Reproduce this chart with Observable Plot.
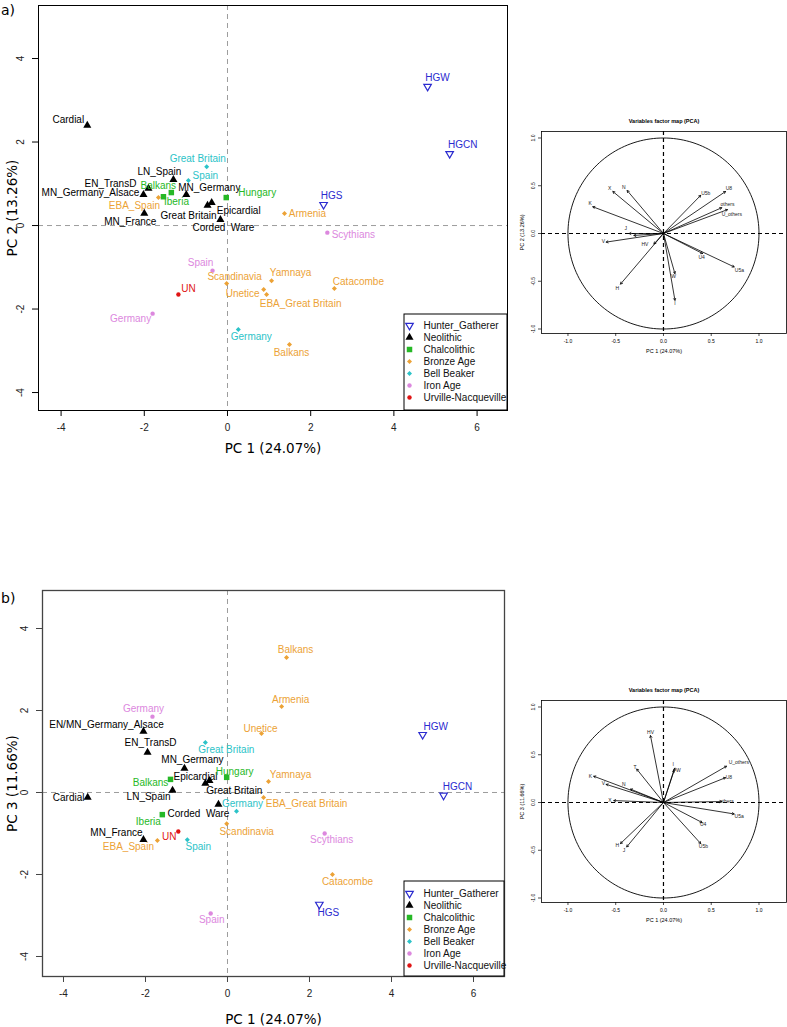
<!DOCTYPE html>
<html><head><meta charset="utf-8">
<script src="https://cdn.jsdelivr.net/npm/d3@7"></script>
<script src="https://cdn.jsdelivr.net/npm/@observablehq/plot@0.6"></script>
<style>
body{margin:0;background:#fff;}
#fig{position:relative;width:787px;height:1027px;overflow:hidden;background:#fff;font-family:"Liberation Sans",Arial,sans-serif;}
#fig svg{position:absolute;overflow:visible;}
.plab{position:absolute;font-family:"DejaVu Sans",sans-serif;font-size:14px;line-height:14px;}
</style></head><body><div id="fig"></div><script>
// ---------------- DATA ----------------
const groups = ["Hunter_Gatherer","Neolithic","Chalcolithic","Bronze Age","Bell Beaker","Iron Age","Urville-Nacqueville"];

// Panel a: PC1 vs PC2
const namesA = ["HGW","HGCN","HGS",
  "Cardial","LN_Spain","EN_TransD","MN_Germany_Alsace","MN_Germany","MN_France","Great Britain","Epicardial","Corded\u00a0\u00a0Ware",
  "Balkans","Iberia","Hungary",
  "EBA_Spain","Armenia","Scandinavia","Yamnaya","Unetice","EBA_Great Britain","Catacombe","Balkans",
  "Great Britain","Spain","Germany",
  "Scythians","Spain","Germany",
  "UN"];
const groupA = ["Hunter_Gatherer","Hunter_Gatherer","Hunter_Gatherer",
  "Neolithic","Neolithic","Neolithic","Neolithic","Neolithic","Neolithic","Neolithic","Neolithic","Neolithic",
  "Chalcolithic","Chalcolithic","Chalcolithic",
  "Bronze Age","Bronze Age","Bronze Age","Bronze Age","Bronze Age","Bronze Age","Bronze Age","Bronze Age",
  "Bell Beaker","Bell Beaker","Bell Beaker",
  "Iron Age","Iron Age","Iron Age",
  "Urville-Nacqueville"];
const pc1A = [4.81,5.34,2.31, -3.37,-1.30,-1.90,-2.02,-0.99,-2.00,-0.48,-0.38,-0.17, -1.35,-1.54,-0.03, -1.66,1.37,-0.02,1.06,0.87,0.94,2.57,1.49, -0.50,-0.94,0.26, 2.40,-0.36,-1.80, -1.18];
const pc2A = [3.33,1.72,0.50, 2.40,1.10,0.89,0.74,0.74,0.29,0.48,0.55,0.14, 0.79,0.69,0.67, 0.67,0.29,-1.39,-1.32,-1.53,-1.65,-1.51,-2.85, 1.41,1.08,-2.49, -0.17,-1.08,-2.11, -1.65];

// Panel b: PC1 vs PC3
const namesB = ["HGW","HGCN","HGS",
  "EN/MN_Germany_Alsace","EN_TransD","MN_Germany","Epicardial","Great Britain","LN_Spain","Cardial","Corded\u00a0\u00a0Ware","MN_France",
  "Hungary","Balkans","Iberia",
  "Balkans","Armenia","Unetice","Yamnaya","EBA_Great Britain","Scandinavia","EBA_Spain","Catacombe",
  "Great Britain","Germany","Spain",
  "Germany","Scythians","Spain",
  "UN"];
const groupB = groupA.slice();
const pc1B = [4.76,5.27,2.24, -2.05,-1.95,-1.05,-0.44,-0.54,-1.34,-3.41,-0.22,-2.05, -0.02,-1.39,-1.59, 1.44,1.32,0.83,1.00,0.88,-0.02,-1.71,2.56, -0.54,0.22,-0.98, -1.83,2.37,-0.41, -1.20];
const pc3B = [1.41,-0.07,-2.73, 1.49,0.98,0.59,0.29,0.22,0.05,-0.12,-0.29,-1.15, 0.37,0.32,-0.54, 3.29,2.10,1.44,0.27,-0.12,-0.76,-1.17,-2.00, 1.22,-0.46,-1.15, 1.85,-1.00,-2.95, -0.95];

const xTicks = [-4,-2,0,2,4,6];
const yTicks = [-4,-2,0,2,4];

// Variables factor maps
const varNamesA = ["X","N","K","U5b","U8","others","U_others","J","T","V","HV","H","U4","U5a","W","I"];
const dim1A = [-0.53,-0.38,-0.74,0.39,0.65,0.61,0.67,-0.36,-0.31,-0.60,-0.10,-0.45,0.41,0.74,0.12,0.12];
const dim2A = [0.44,0.45,0.28,0.40,0.44,0.27,0.25,0.00,-0.02,-0.09,-0.11,-0.53,-0.21,-0.35,-0.42,-0.70];
const varNamesB = ["HV","T","I","W","U_others","U8","K","V","N","X","others","U5a","U4","U5b","H","J"];
const dim1B = [-0.136,-0.28,0.12,0.11,0.66,0.65,-0.73,-0.60,-0.345,-0.52,0.61,0.74,0.405,0.39,-0.45,-0.385];
const dim3B = [0.70,0.35,0.36,0.34,0.38,0.26,0.275,0.19,0.14,0.02,0.01,-0.12,-0.21,-0.43,-0.43,-0.465];
const varTicks = [-1,-0.5,0,0.5,1];

// ---------------- LAYOUT / STYLE ----------------
const colors = {"Hunter_Gatherer":"#2b2bcf","Neolithic":"#000000","Chalcolithic":"#26b826","Bronze Age":"#eca236","Bell Beaker":"#2cc3c8","Iron Age":"#dc88de","Urville-Nacqueville":"#e01414"};
const triDown = {draw(ctx, size){const y = -Math.sqrt(size/(Math.sqrt(3)*3)); ctx.moveTo(0,-2*y); ctx.lineTo(-Math.sqrt(3)*y, y); ctx.lineTo(Math.sqrt(3)*y, y); ctx.closePath();}};
const diamond = {draw(ctx, size){const r = Math.sqrt(size/2); ctx.moveTo(0,-r); ctx.lineTo(r,0); ctx.lineTo(0,r); ctx.lineTo(-r,0); ctx.closePath();}};
const symbolStyles = {
  "Hunter_Gatherer": {symbol: triDown, fill: "none", stroke: colors["Hunter_Gatherer"], strokeWidth: 1.2, r: 2.8},
  "Neolithic": {symbol: "triangle", fill: colors["Neolithic"], r: 3},
  "Chalcolithic": {symbol: "square", fill: colors["Chalcolithic"], r: 3.1},
  "Bronze Age": {symbol: diamond, fill: colors["Bronze Age"], r: 2},
  "Bell Beaker": {symbol: diamond, fill: colors["Bell Beaker"], r: 2},
  "Iron Age": {symbol: "circle", fill: colors["Iron Age"], r: 2.2},
  "Urville-Nacqueville": {symbol: "circle", fill: colors["Urville-Nacqueville"], r: 2.2}
};
const labelOffsetA = [[10,-9],[13,-9],[8,-9],
  [-19,-6],[-14,-8],[-38,-5],[-53,-2],[23,-7],[-14,8],[-19,10],[27,8],[3,8],
  [-13,-7],[13,5],[31,-5],
  [-24,8],[23,0],[8,-7],[19,-8],[-21,4],[34,9],[24,-7],[2,8],
  [-9,-8],[17,-5],[13,7],
  [26,2],[-12,-8],[-22,5],
  [10,-6]];
const labelOffsetB = [[13,-8],[14,-9],[9,8],
  [-37,-7],[3,-10],[8,-9],[-14,-4],[29,7],[-24,6],[-19,0],[-20,9],[-27,-7],
  [8,-6],[-20,3],[-14,7],
  [9,-8],[9,-7],[-1,-5],[22,-7],[43,6],[20,8],[-29,6],[15,7],
  [21,7],[6,-8],[11,7],
  [-9,-8],[7,6],[1,6],
  [-9,5]];
const varOffsetA = [[-3.3,-3],[-3.3,-2.7],[-2.7,-3.3],[5,-2.3],[3.3,-3],[5.7,-3.3],[4.3,5],[-3.3,-5],[1.7,0],[-2.7,-0.7],[-9,0.7],[-3.3,4.3],[-1,4],[5.3,3.3],[-1.3,2.7],[0,3.3]];
const varOffsetB = [[0,-3.3],[-1.7,-1.7],[-1.7,-3.3],[4.3,0],[12.3,-3.7],[3.3,0],[-3.3,0],[-2.7,-0.7],[-6.7,-5],[-4,0],[5,0],[5,2.7],[1,2.3],[2.7,2.7],[-3.3,2.3],[-2.7,3.3]];

const fig = document.getElementById("fig");
function place(el, left, top){ el.style.left = left + "px"; el.style.top = top + "px"; fig.appendChild(el); }

function scatter(o){
  const data = o.names.map((n,i)=>({name:n, group:o.grp[i], x:o.xs[i], y:o.ys[i], dx:o.offsets[i][0], dy:o.offsets[i][1]}));
  const dash = {stroke:"#9c9c9c", strokeDasharray:"5,4", strokeWidth:1};
  return Plot.plot({
    width:o.width, height:o.height,
    marginLeft:o.ml, marginRight:o.mr, marginTop:o.mt, marginBottom:o.mb,
    style:{fontFamily:"Liberation Sans, Arial, sans-serif", background:"transparent", color:"#000"},
    x:{domain:o.xDomain}, y:{domain:o.yDomain},
    marks:[
      Plot.ruleX([0], dash),
      Plot.ruleY([0], dash),
      ...groups.map(g => Plot.dot(data.filter(d=>d.group===g), {x:"x", y:"y", ...symbolStyles[g]})),
      ...data.map(d => Plot.text([d], {x:"x", y:"y", text:"name", dx:d.dx, dy:d.dy, fill:colors[d.group], fontSize:10})),
      Plot.frame({stroke:o.frameStroke, strokeWidth:o.frameWidth}),
      Plot.axisX({ticks:xTicks, tickSize:6, tickPadding:7, tickFormat:d=>String(d), label:null, fontSize:10, stroke:o.frameStroke, color:"#222"}),
      Plot.axisY({ticks:yTicks, tickSize:6, tickFormat:()=>"", label:null, stroke:o.frameStroke}),
      Plot.text(yTicks, {y:d=>d, text:d=>String(d), frameAnchor:"left", dx:-18, rotate:-90, textAnchor:"middle", lineAnchor:"middle", fontSize:10, fill:"#222"}),
      Plot.text([o.xTitle], {frameAnchor:"bottom", text:d=>d, dy:o.xTitleDy, lineAnchor:"middle", textAnchor:"middle", fontSize:13.5, fontFamily:"DejaVu Sans"}),
      Plot.text([o.yTitle], {frameAnchor:"left", text:d=>d, dx:o.yTitleDx, rotate:-90, lineAnchor:"middle", textAnchor:"middle", fontSize:13.5, fontFamily:"DejaVu Sans"})
    ]
  });
}

function legend(width, height, mt, mb){
  return Plot.plot({
    width, height, marginLeft:0, marginRight:0, marginTop:mt, marginBottom:mb,
    style:{fontFamily:"Liberation Sans, Arial, sans-serif", background:"transparent"},
    x:{domain:[0,1], axis:null},
    y:{type:"point", domain:groups, padding:0, axis:null},
    marks:[
      Plot.frame({fill:"white", stroke:"black", insetTop:-mt+0.5, insetBottom:-mb+0.5, insetLeft:0.5, insetRight:0.5}),
      ...groups.map(g => Plot.dot([g], {x:()=>0, y:d=>d, dx:6, ...symbolStyles[g]})),
      Plot.text(groups, {x:()=>0, y:d=>d, dx:20, text:d=>d, textAnchor:"start", fontSize:10, fill:"#111"})
    ]
  });
}

function varMap(o){
  const vars = o.names.map((n,i)=>({name:n, x:o.d1[i], y:o.d2[i], dx:o.offsets[i][0], dy:o.offsets[i][1]}));
  const circle = d3.range(0, 361, 2).map(a => [Math.cos(a*Math.PI/180), Math.sin(a*Math.PI/180)]);
  const dash = {stroke:"black", strokeDasharray:"4,3", strokeWidth:1.2};
  return Plot.plot({
    width:272, height:250, marginLeft:26, marginRight:1, marginTop:16, marginBottom:32,
    style:{fontFamily:"Liberation Sans, Arial, sans-serif", background:"transparent"},
    x:{domain:[-1.277,1.288]}, y:{domain:[-1.047,1.068]},
    marks:[
      Plot.frame({stroke:"black", strokeWidth:0.8}),
      Plot.ruleX([0], dash),
      Plot.ruleY([0], dash),
      Plot.line(circle, {x:d=>d[0], y:d=>d[1], stroke:"black", strokeWidth:0.9}),
      Plot.arrow(vars, {x1:()=>0, y1:()=>0, x2:"x", y2:"y", headLength:4, strokeWidth:0.8, stroke:"black"}),
      ...vars.map(v => Plot.text([v], {x:"x", y:"y", text:"name", dx:v.dx, dy:v.dy, fontSize:5, fill:"#222"})),
      Plot.axisX({ticks:varTicks, tickSize:3, tickPadding:3, tickFormat:d=>d.toFixed(1), label:null, fontSize:5, stroke:"black", strokeWidth:0.7}),
      Plot.axisY({ticks:varTicks, tickSize:3, tickFormat:()=>"", label:null, stroke:"black", strokeWidth:0.7}),
      Plot.text(varTicks, {y:d=>d, text:d=>d.toFixed(1), frameAnchor:"left", dx:-8, rotate:-90, textAnchor:"middle", lineAnchor:"middle", fontSize:5}),
      Plot.text(["Variables factor map (PCA)"], {frameAnchor:"top", text:d=>d, dy:-10, lineAnchor:"middle", textAnchor:"middle", fontSize:5.5, fontWeight:"bold"}),
      Plot.text(["PC 1 (24.07%)"], {frameAnchor:"bottom", text:d=>d, dy:18, lineAnchor:"middle", textAnchor:"middle", fontSize:5.5}),
      Plot.text([o.yTitle], {frameAnchor:"left", text:d=>d, dx:-19, rotate:-90, lineAnchor:"middle", textAnchor:"middle", fontSize:5.5})
    ]
  });
}

// Panel a
place(scatter({names:namesA, grp:groupA, xs:pc1A, ys:pc2A, offsets:labelOffsetA,
  width:515, height:470, ml:38, mr:8, mt:5, mb:60,
  xDomain:[-4.543,6.731], yDomain:[-4.43,5.27],
  frameStroke:"#000", frameWidth:1, xTitle:"PC 1 (24.07%)", yTitle:"PC 2 (13.26%)", xTitleDy:38, yTitleDx:-26}), 0, 0);
place(legend(104, 97, 12, 13), 403, 313);
place(varMap({names:varNamesA, d1:dim1A, d2:dim2A, offsets:varOffsetA, yTitle:"PC 2 (13.26%)"}), 515, 115);

// Panel b
place(scatter({names:namesB, grp:groupB, xs:pc1B, ys:pc3B, offsets:labelOffsetB,
  width:515, height:442, ml:42, mr:11, mt:5, mb:51,
  xDomain:[-4.512,6.756], yDomain:[-4.488,4.927],
  frameStroke:"#444", frameWidth:1.3, xTitle:"PC 1 (24.07%)", yTitle:"PC 3 (11.66%)", xTitleDy:43, yTitleDx:-30}), 0, 585);
place(legend(101, 96, 13, 11), 403, 880);
place(varMap({names:varNamesB, d1:dim1B, d2:dim3B, offsets:varOffsetB, yTitle:"PC 3 (11.66%)"}), 515, 684);

// panel letters
for (const [t, y] of [["a)", 3], ["b)", 591]]) {
  const d = document.createElement("div"); d.className = "plab"; d.textContent = t;
  d.style.left = "1px"; d.style.top = y + "px"; fig.appendChild(d);
}
</script></body></html>
